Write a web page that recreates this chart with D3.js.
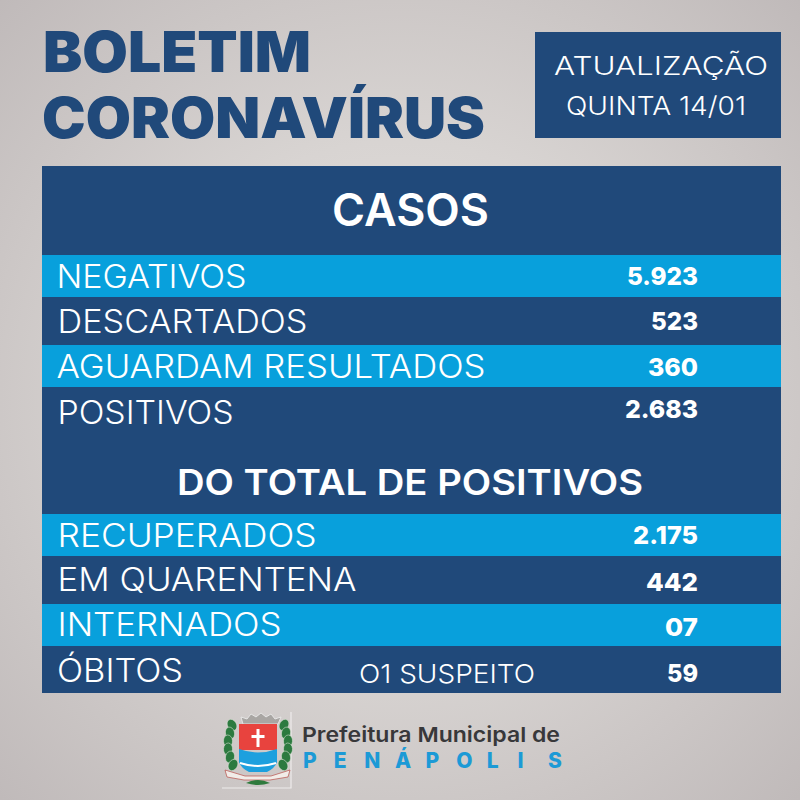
<!DOCTYPE html>
<html lang="pt"><head><meta charset="utf-8">
<script src="https://cdn.jsdelivr.net/npm/d3@7"></script>
<style>html,body{margin:0;padding:0;background:#cbc6c5}svg{display:block}text{font-family:Inter,"Noto Sans",sans-serif}</style>
</head><body><div id="c"></div>
<script>
// ---- data ----
const titleLines = ["BOLETIM", "CORONAVÍRUS"];
const updateLines = ["ATUALIZAÇÃO", "QUINTA 14/01"];
const sectionTitles = ["CASOS", "DO TOTAL DE POSITIVOS"];
const categories = ["NEGATIVOS", "DESCARTADOS", "AGUARDAM RESULTADOS", "POSITIVOS",
                    "RECUPERADOS", "EM QUARENTENA", "INTERNADOS", "ÓBITOS"];
const valueLabels = ["5.923", "523", "360", "2.683", "2.175", "442", "07", "59"];
const note = "O1 SUSPEITO";
const footerLines = ["Prefeitura Municipal de", "PENÁPOLIS"];

// ---- layout ----
const navy = "#20497a", cyan = "#08a0dc";
const rowTops = [255, 297, 345, 387, 514, 556, 604, 646];
const labelBase = [288, 333, 378, 424, 547, 591, 636, 682];
const valueBase = [285, 330, 376, 418, 544, 591, 636, 682];
const labelX = [56.500, 57.500, 56.500, 57.500, 57.500, 57.500, 57.500, 57];
const labelW = [190, 250, 429, 176, 259, 299, 224, 126];
const valueW = [71, 47, 50, 73, 65, 52, 33, 31];

const svg = d3.select("#c").append("svg").attr("width", 800).attr("height", 800).attr("viewBox", "0 0 800 800");
const defs = svg.append("defs");
const rg = defs.append("radialGradient").attr("id", "bg").attr("cx", "50%").attr("cy", "50%").attr("r", "72%");
[[0, "#e6e2df"], [0.45, "#d8d4d2"], [1, "#bfb9b9"]].forEach(([o, c]) => rg.append("stop").attr("offset", o).attr("stop-color", c));
svg.append("rect").attr("width", 800).attr("height", 800).attr("fill", "url(#bg)");

function txt(s, x, y, size, weight, fill, width, anchor) {
  const t = svg.append("text").attr("x", x).attr("y", y).attr("font-size", size)
    .attr("font-weight", weight).attr("fill", fill).attr("text-anchor", anchor || "start").text(s);
  if (width) t.attr("textLength", width).attr("lengthAdjust", "spacingAndGlyphs");
  return t;
}

// header
txt(titleLines[0], 43, 72, 56, 900, navy, 268);
txt(titleLines[1], 42, 138, 56, 900, navy, 443);
svg.append("rect").attr("x", 535).attr("y", 32).attr("width", 246).attr("height", 106).attr("fill", navy);
txt(updateLines[0], 554, 75, 26, 300, "#fff", 214);
txt(updateLines[1], 566, 115, 26, 300, "#fff", 180);

// table
const y = d3.scaleOrdinal().domain(categories).range(rowTops);
const x = d3.scaleLinear().domain([0, 1]).range([42, 781]);
svg.append("rect").attr("x", x(0)).attr("y", 166).attr("width", x(1) - x(0)).attr("height", 527).attr("fill", navy);
svg.selectAll("rect.row").data(categories.filter((d, i) => i % 2 === 0)).join("rect").attr("class", "row")
  .attr("x", x(0)).attr("width", x(1) - x(0)).attr("y", d => y(d)).attr("height", 42).attr("fill", cyan);

txt(sectionTitles[0], 332, 226, 45, 600, "#fff", 157);
txt(sectionTitles[1], 177, 495, 35, 600, "#fff", 466);

categories.forEach((c, i) => {
  txt(c, labelX[i], labelBase[i], 32, 300, "#fff", labelW[i]);
  txt(valueLabels[i], 698, valueBase[i], 25, 800, "#fff", valueW[i], "end");
});
txt(note, 359, 683, 26, 300, "#fff", 176);

// footer
txt(footerLines[0], 302, 742, 20.500, 600, "#38383a", 258);
const pen = footerLines[1].split("");
const px = d3.scalePoint().domain(d3.range(pen.length)).range([303, 548]);
pen.forEach((ch, i) => txt(ch, px(i), 768, 21, 800, "#1c9ad6"));

// coat of arms
const logo = svg.append("g");
logo.append("path").attr("d", "M291 712V788H222").attr("fill", "none").attr("stroke", "#eeeceb").attr("stroke-width", 1.2);
logo.append("path").attr("d", "M243 724l-2-7 6 2 4-5 5 3 5-4 5 4 5-3 4 5 6-2-3 7z").attr("fill", "#a9a6a3").attr("stroke", "#eee").attr("stroke-width", .8);
const leaves = [[232,725,-30],[230,733,-15],[228,741,-5],[228,749,5],[230,757,15],[233,765,30],[284,725,30],[286,733,15],[288,741,5],[288,749,-5],[286,757,-15],[283,765,-30]];
logo.selectAll("ellipse.leaf").data(leaves).join("ellipse").attr("class", "leaf").attr("rx", 4.5).attr("ry", 6)
  .attr("transform", d => `translate(${d[0]},${d[1]}) rotate(${d[2]})`).attr("fill", "#2c7a3f").attr("stroke", "#e8e8e0").attr("stroke-width", .5);
logo.append("path").attr("d", "M239 724H277V750H239z").attr("fill", "#e8433e");
logo.append("path").attr("d", "M239 749q19 7 38 0V762q-2 6-10 10H249q-8-4-10-10z").attr("fill", "#1da0de");
logo.append("path").attr("d", "M240 763q18 6 36 0").attr("fill", "none").attr("stroke", "#fff").attr("stroke-width", 2);
logo.append("path").attr("d", "M256.500 729h3v6h5v3h-5v9h-3v-9h-5v-3h5z").attr("fill", "#fff");
logo.append("path").attr("d", "M225 770l20 6h26l19-6 -2 7-18 3h-26l-17-3z").attr("fill", "#f1ece8").attr("stroke", "#b8504a").attr("stroke-width", .7);
logo.append("path").attr("d", "M246 783q12-6 24 0q-12 4-24 0z").attr("fill", "#2f7a3d");
</script></body></html>
